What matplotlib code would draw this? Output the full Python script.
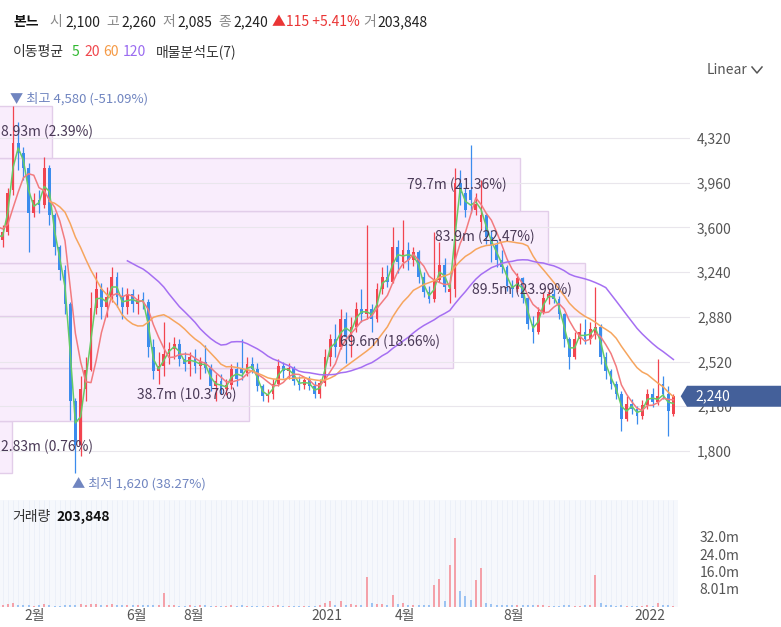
import numpy as np
import pandas as pd
import matplotlib
matplotlib.use("Agg")
import matplotlib.pyplot as plt
from matplotlib.patches import Rectangle, Polygon
from matplotlib.lines import Line2D
from matplotlib.transforms import offset_copy

plt.rcParams['font.family'] = ['Noto Sans CJK KR', 'DejaVu Sans']

# candles, one per ~4 trading days (Jan 2020 - Jan 2022)
opens = [3600, 3650, 3700, 3620, 3560, 3500, 3560, 3900, 4280, 4200,
         4080, 3720, 3820, 3780, 4080, 3700, 3440, 3260, 2980, 2200,
         1850, 2300, 2450, 2950, 3100, 2960, 3040, 3200, 3040, 2960,
         3060, 2980, 3020, 3000, 2640, 2440, 2480, 2580, 2620, 2660,
         2540, 2500, 2560, 2480, 2520, 2470, 2320, 2360, 2300, 2330,
         2460, 2470, 2430, 2500, 2460, 2320, 2240, 2260, 2340, 2480,
         2440, 2470, 2360, 2330, 2370, 2320, 2260, 2350, 2560, 2700,
         2640, 2860, 2720, 2800, 2940, 2900, 2940, 2860, 3100, 3200,
         3160, 3440, 3320, 3420, 3340, 3400, 3200, 3080, 3020, 3180,
         3300, 3080, 3100, 3960, 3880, 3900, 3740, 3640, 3700, 3520,
         3460, 3340, 3280, 3130, 3100, 3190, 3030, 2820, 2760, 2920,
         3030, 3060, 3020, 2900, 2700, 2560, 2700, 2760, 2700, 2740,
         2800, 2560, 2440, 2340, 2260, 2060, 2180, 2140, 2080, 2170,
         2260, 2190, 2340, 2260, 2100]
highs = [3700, 3760, 3720, 3660, 3600, 3620, 3920, 4580, 4450, 4250,
         4120, 3880, 3900, 4170, 4100, 3720, 3460, 3300, 3000, 2230,
         2400, 2560, 3080, 3240, 3150, 3120, 3280, 3240, 3120, 3110,
         3100, 3060, 3080, 3020, 2700, 2600, 2840, 2680, 2720, 2700,
         2600, 2600, 2620, 2560, 2650, 2500, 2420, 2420, 2380, 2500,
         2520, 2700, 2560, 2560, 2510, 2340, 2300, 2380, 2540, 2520,
         2510, 2480, 2400, 2390, 2400, 2360, 2380, 2620, 2740, 2820,
         2940, 2920, 2880, 3000, 3100, 3620, 2980, 3150, 3280, 3300,
         3600, 3500, 3660, 3480, 3440, 3420, 3240, 3130, 3560, 3480,
         3350, 3200, 4080, 4060, 3920, 4260, 3880, 3980, 3720, 3580,
         3500, 3420, 3300, 3180, 3230, 3200, 3050, 2890, 2960, 3080,
         3100, 3100, 3050, 2910, 2720, 2760, 2830, 2860, 2840, 3120,
         2820, 2600, 2460, 2360, 2280, 2240, 2220, 2160, 2210, 2300,
         2310, 2540, 2400, 2320, 2260]
lows = [3560, 3620, 3580, 3520, 3440, 3440, 3540, 3860, 4060, 3980,
        3400, 3680, 3720, 3760, 3620, 3380, 3180, 2900, 2050, 1620,
        1760, 2200, 2440, 2900, 2860, 2880, 3000, 2960, 2860, 2900,
        2920, 2900, 2940, 2560, 2380, 2340, 2400, 2500, 2540, 2480,
        2440, 2400, 2430, 2380, 2430, 2280, 2200, 2260, 2250, 2300,
        2320, 2370, 2400, 2430, 2280, 2200, 2190, 2220, 2320, 2390,
        2380, 2330, 2290, 2300, 2290, 2230, 2230, 2320, 2480, 2560,
        2620, 2510, 2560, 2760, 2840, 2860, 2760, 2840, 3060, 3120,
        3150, 3230, 3270, 3260, 3290, 3150, 3040, 2990, 3000, 3160,
        3080, 2990, 3040, 3780, 3680, 3720, 3700, 3580, 3470, 3320,
        3280, 3230, 3090, 3040, 3080, 2990, 2780, 2670, 2740, 2900,
        2980, 2990, 2860, 2640, 2460, 2540, 2660, 2660, 2660, 2700,
        2500, 2380, 2300, 2220, 1960, 2040, 2100, 2020, 2060, 2140,
        2150, 2170, 2220, 1920, 2085]
closes = [3650, 3700, 3620, 3560, 3500, 3560, 3880, 4280, 4200, 4080,
          3720, 3820, 3780, 4080, 3700, 3440, 3260, 2980, 2200, 1850,
          2300, 2450, 2950, 3100, 2960, 3040, 3200, 3040, 2960, 3060,
          2980, 3020, 3000, 2640, 2440, 2480, 2580, 2620, 2660, 2540,
          2500, 2560, 2480, 2520, 2470, 2320, 2360, 2300, 2330, 2460,
          2380, 2430, 2500, 2460, 2320, 2240, 2260, 2340, 2480, 2440,
          2470, 2360, 2330, 2370, 2320, 2260, 2350, 2560, 2700, 2640,
          2860, 2720, 2800, 2940, 2900, 2940, 2860, 3100, 3200, 3160,
          3440, 3320, 3420, 3340, 3400, 3200, 3080, 3020, 3180, 3300,
          3120, 3100, 3960, 3880, 3740, 3820, 3790, 3700, 3520, 3460,
          3340, 3280, 3130, 3100, 3190, 3030, 2820, 2760, 2920, 3030,
          3060, 3020, 2900, 2700, 2560, 2700, 2760, 2700, 2780, 2800,
          2560, 2440, 2340, 2260, 2060, 2180, 2140, 2080, 2170, 2260,
          2190, 2240, 2260, 2125, 2240]
# volume in millions of shares
volumes = [0.8, 0.6, 0.7, 0.9, 0.6, 0.7, 1.0, 1.4, 0.9, 0.6,
           0.5, 0.4, 0.6, 1.1, 0.5, 0.4, 0.4, 0.5, 0.6, 0.8,
           1.2, 0.8, 1.3, 1.0, 0.7, 0.6, 1.0, 0.6, 0.5, 0.9,
           0.8, 0.9, 0.5, 0.6, 0.5, 0.7, 6.4, 0.9, 0.6, 0.4,
           0.4, 0.5, 0.4, 0.5, 0.7, 0.4, 0.3, 0.3, 0.4, 0.5,
           0.4, 0.9, 0.4, 0.3, 0.4, 0.3, 0.3, 0.4, 0.6, 0.4,
           0.3, 0.3, 0.3, 0.4, 0.3, 0.3, 0.5, 1.5, 2.3, 0.8,
           2.3, 0.9, 1.3, 0.7, 0.6, 13.3, 1.5, 1.0, 1.0, 0.8,
           5.3, 1.2, 1.8, 0.7, 0.6, 0.5, 0.5, 0.5, 9.9, 12.8,
           2.6, 19.0, 31.5, 6.9, 5.0, 3.0, 12.2, 17.8, 1.5, 1.0,
           0.8, 0.6, 0.6, 0.5, 0.6, 0.5, 0.5, 0.6, 0.5, 0.6,
           0.4, 0.4, 0.4, 0.5, 0.6, 0.4, 0.4, 0.5, 0.8, 14.5,
           1.6, 0.6, 0.5, 0.4, 0.6, 0.4, 0.3, 0.4, 0.4, 0.5,
           0.4, 1.8, 0.7, 0.6, 0.203848]

# volume profile (매물분석도), bottom band -> top band
profile_vol = [2.83, 38.7, 69.6, 89.5, 83.9, 79.7, 8.93]
profile_pct = [0.76, 10.37, 18.66, 23.99, 22.47, 21.36, 2.39]

ma_days = [5, 20, 60, 120]
ma_windows = [2, 5, 15, 30]   # in 4-day candles
ma_colors = ['#66cc66', '#f27b7f', '#f6a55e', '#a56ff2']

price_ticks = [1800, 2160, 2520, 2880, 3240, 3600, 3960, 4320]
vol_ticks = [8.01, 16.0, 24.0, 32.0]
vol_tick_labels = ['8.01m', '16.0m', '24.0m', '32.0m']
month_pos = [11.2, 30.8, 41.8, 67.4, 82.4, 103.2, 129.5]
month_labels = ['2월', '6월', '8월', '2021', '4월', '8월', '2022']

RED = '#f2444f'
BLUE = '#3b8ced'
W, H = 781, 627
PX = 5.2  # pixels per candle


def fy(py):
    return 1 - py / H


fig = plt.figure(figsize=(W / 100, H / 100), dpi=100)
ax = fig.add_axes([0, fy(497), 690 / W, (497 - 88) / H])
axv = fig.add_axes([0, fy(606.5), 690 / W, 106.5 / H], sharex=ax)

o = np.array(opens, float)
hi = np.array(highs, float)
lo = np.array(lows, float)
c = np.array(closes, float)
x = np.arange(len(c))
up = c >= o
cols = np.where(up, RED, BLUE)

x0 = 4.5
ax.set_xlim(x0, x0 + 690 / PX)
ppx = 360 / 44.7
ax.set_ylim(4320 - (497 - 138) * ppx, 4320 + (138 - 88) * ppx)

# volume profile bands
pmin, pmax = lo.min(), hi.max()
edges = np.linspace(pmin, pmax, len(profile_vol) + 1)
for k, (v, p) in enumerate(zip(profile_vol, profile_pct)):
    left_px = -6.7
    right_px = left_px + v * 6.61
    ax.add_patch(Rectangle((x0 + left_px / PX, edges[k]), (right_px - left_px) / PX,
                           edges[k + 1] - edges[k], facecolor='#f9edfc',
                           edgecolor='#e2cde9', lw=1, zorder=1))
    lbl = f'{v:g}m ({p:.2f}%)'
    yc = (edges[k] + edges[k + 1]) / 2
    if right_px > 150:
        ax.text(x0 + (right_px - 13) / PX, yc, lbl, ha='right', va='center',
                fontsize=10, color='#4a3a57', zorder=6)
    else:
        ax.text(x0 + 1 / PX, yc, lbl, ha='left', va='center',
                fontsize=10, color='#4a3a57', zorder=6)

for t in price_ticks:
    ax.axhline(t, color='#e9e6ec', lw=0.8, zorder=1.5)

# candles
ax.vlines(x, lo, hi, colors=cols, lw=0.9, zorder=3)
body = np.maximum(np.abs(c - o), 10)
ax.bar(x, body, bottom=np.minimum(o, c), width=0.55, color=cols, zorder=3)

s = pd.Series(c)
for w, col in zip(ma_windows, ma_colors):
    ax.plot(x, s.rolling(w).mean(), color=col, lw=1.1, zorder=4)

# high / low markers
imax, imin = int(np.argmax(hi)), int(np.argmin(lo))
last = c[-1]
tr = offset_copy(ax.transData, fig=fig, x=-3, y=7, units='dots')
ax.text(imax, hi[imax], f'▼ 최고 {hi[imax]:,.0f} ({(last - hi[imax]) / hi[imax] * 100:.2f}%)',
        transform=tr, ha='left', va='center', fontsize=9.5, color='#7085c0', zorder=7)
tr = offset_copy(ax.transData, fig=fig, x=-3, y=-11, units='dots')
ax.text(imin, lo[imin], f'▲ 최저 {lo[imin]:,.0f} ({(last - lo[imin]) / lo[imin] * 100:.2f}%)',
        transform=tr, ha='left', va='center', fontsize=9.5, color='#7085c0', zorder=7)

ax.yaxis.tick_right()
ax.set_yticks(price_ticks)
ax.set_yticklabels([f'{t:,}' for t in price_ticks])
ax.tick_params(axis='y', length=0, pad=5, labelsize=10, labelcolor='#555555')
ax.tick_params(axis='x', bottom=False, labelbottom=False)
for sp in ax.spines.values():
    sp.set_visible(False)
ax.set_facecolor('none')

# volume panel
axv.set_ylim(0, 106.5 / 17.5 * 8)
axv.add_patch(Rectangle((x0, 0), 678 / PX, 106.5 / 17.5 * 8, facecolor='#f6f8fc',
                        edgecolor='none', zorder=0))
axv.vlines(x[x >= 5], 0, 106.5 / 17.5 * 8, colors='#ebeff8', lw=0.6, zorder=0.5)
vcols = np.where(up, '#f4a1a9', '#9cc3f2')
axv.bar(x, volumes, width=0.4, color=vcols, zorder=2)
axv.yaxis.tick_right()
axv.set_yticks(vol_ticks)
axv.set_yticklabels(vol_tick_labels)
axv.set_xticks(month_pos)
axv.set_xticklabels(month_labels)
axv.tick_params(axis='y', length=0, pad=7, labelsize=10, labelcolor='#555555')
axv.tick_params(axis='x', length=0, pad=2, labelsize=10, labelcolor='#555555')
for sp in axv.spines.values():
    sp.set_visible(False)
axv.set_facecolor('none')
axv.text(12 / 690, 1 - 17 / 106.5, '거래량', transform=axv.transAxes, ha='left',
         va='center', fontsize=10, color='#333333')
axv.text(56 / 690, 1 - 17 / 106.5, f'{round(volumes[-1] * 1e6):,}', transform=axv.transAxes,
         ha='left', va='center', fontsize=10, color='#111111', fontweight='bold')

# header
chg = c[-1] - c[-2]
hdr = [(13, '본느', '#111111', 'bold'), (49, '시', '#888888', 'normal'),
       (65, f'{o[-1]:,.0f}', '#222222', 'normal'), (106, '고', '#888888', 'normal'),
       (121, f'{hi[-1]:,.0f}', '#222222', 'normal'), (162, '저', '#888888', 'normal'),
       (177, f'{lo[-1]:,.0f}', '#222222', 'normal'), (218, '종', '#888888', 'normal'),
       (233, f'{c[-1]:,.0f}', '#222222', 'normal'),
       (272, f'▲{chg:,.0f} +{chg / c[-2] * 100:.2f}%', '#ea3535', 'normal'),
       (363, '거', '#888888', 'normal'), (377, f'{round(volumes[-1] * 1e6):,}', '#222222', 'normal')]
for px, txt, col, wt in hdr:
    fig.text(px / W, fy(22), txt, ha='left', va='center', fontsize=10, color=col, fontweight=wt)

row2 = [(13, '이동평균', '#333333')]
pos2 = [72, 84, 103, 123]
for px, d, col in zip(pos2, ma_days, ['#2fb82f', '#f0474d', '#f59a45', '#9a6bf0']):
    row2.append((px, str(d), col))
row2.append((156, '매물분석도(7)', '#333333'))
for px, txt, col in row2:
    fig.text(px / W, fy(52), txt, ha='left', va='center', fontsize=10, color=col)

fig.text(707 / W, fy(70), 'Linear', ha='left', va='center', fontsize=10, color='#555555')
fig.add_artist(Line2D([752 / W, 757 / W, 762 / W], [fy(67), fy(73), fy(67)],
                      color='#555555', lw=1.1))

# last price tag
fig.canvas.draw()
yd = ax.transData.transform((0, last))[1]
yt = yd / H
hh = 10.5 / H
fig.add_artist(Polygon([(680.7 / W, yt), (687 / W, yt + hh), (781 / W, yt + hh),
                        (781 / W, yt - hh), (687 / W, yt - hh)], closed=True,
                       facecolor='#44609a', edgecolor='none', zorder=10))
fig.text(695 / W, yt, f'{last:,.0f}', ha='left', va='center', fontsize=10,
         color='white', zorder=11)

fig.savefig('out.png', dpi=100)
